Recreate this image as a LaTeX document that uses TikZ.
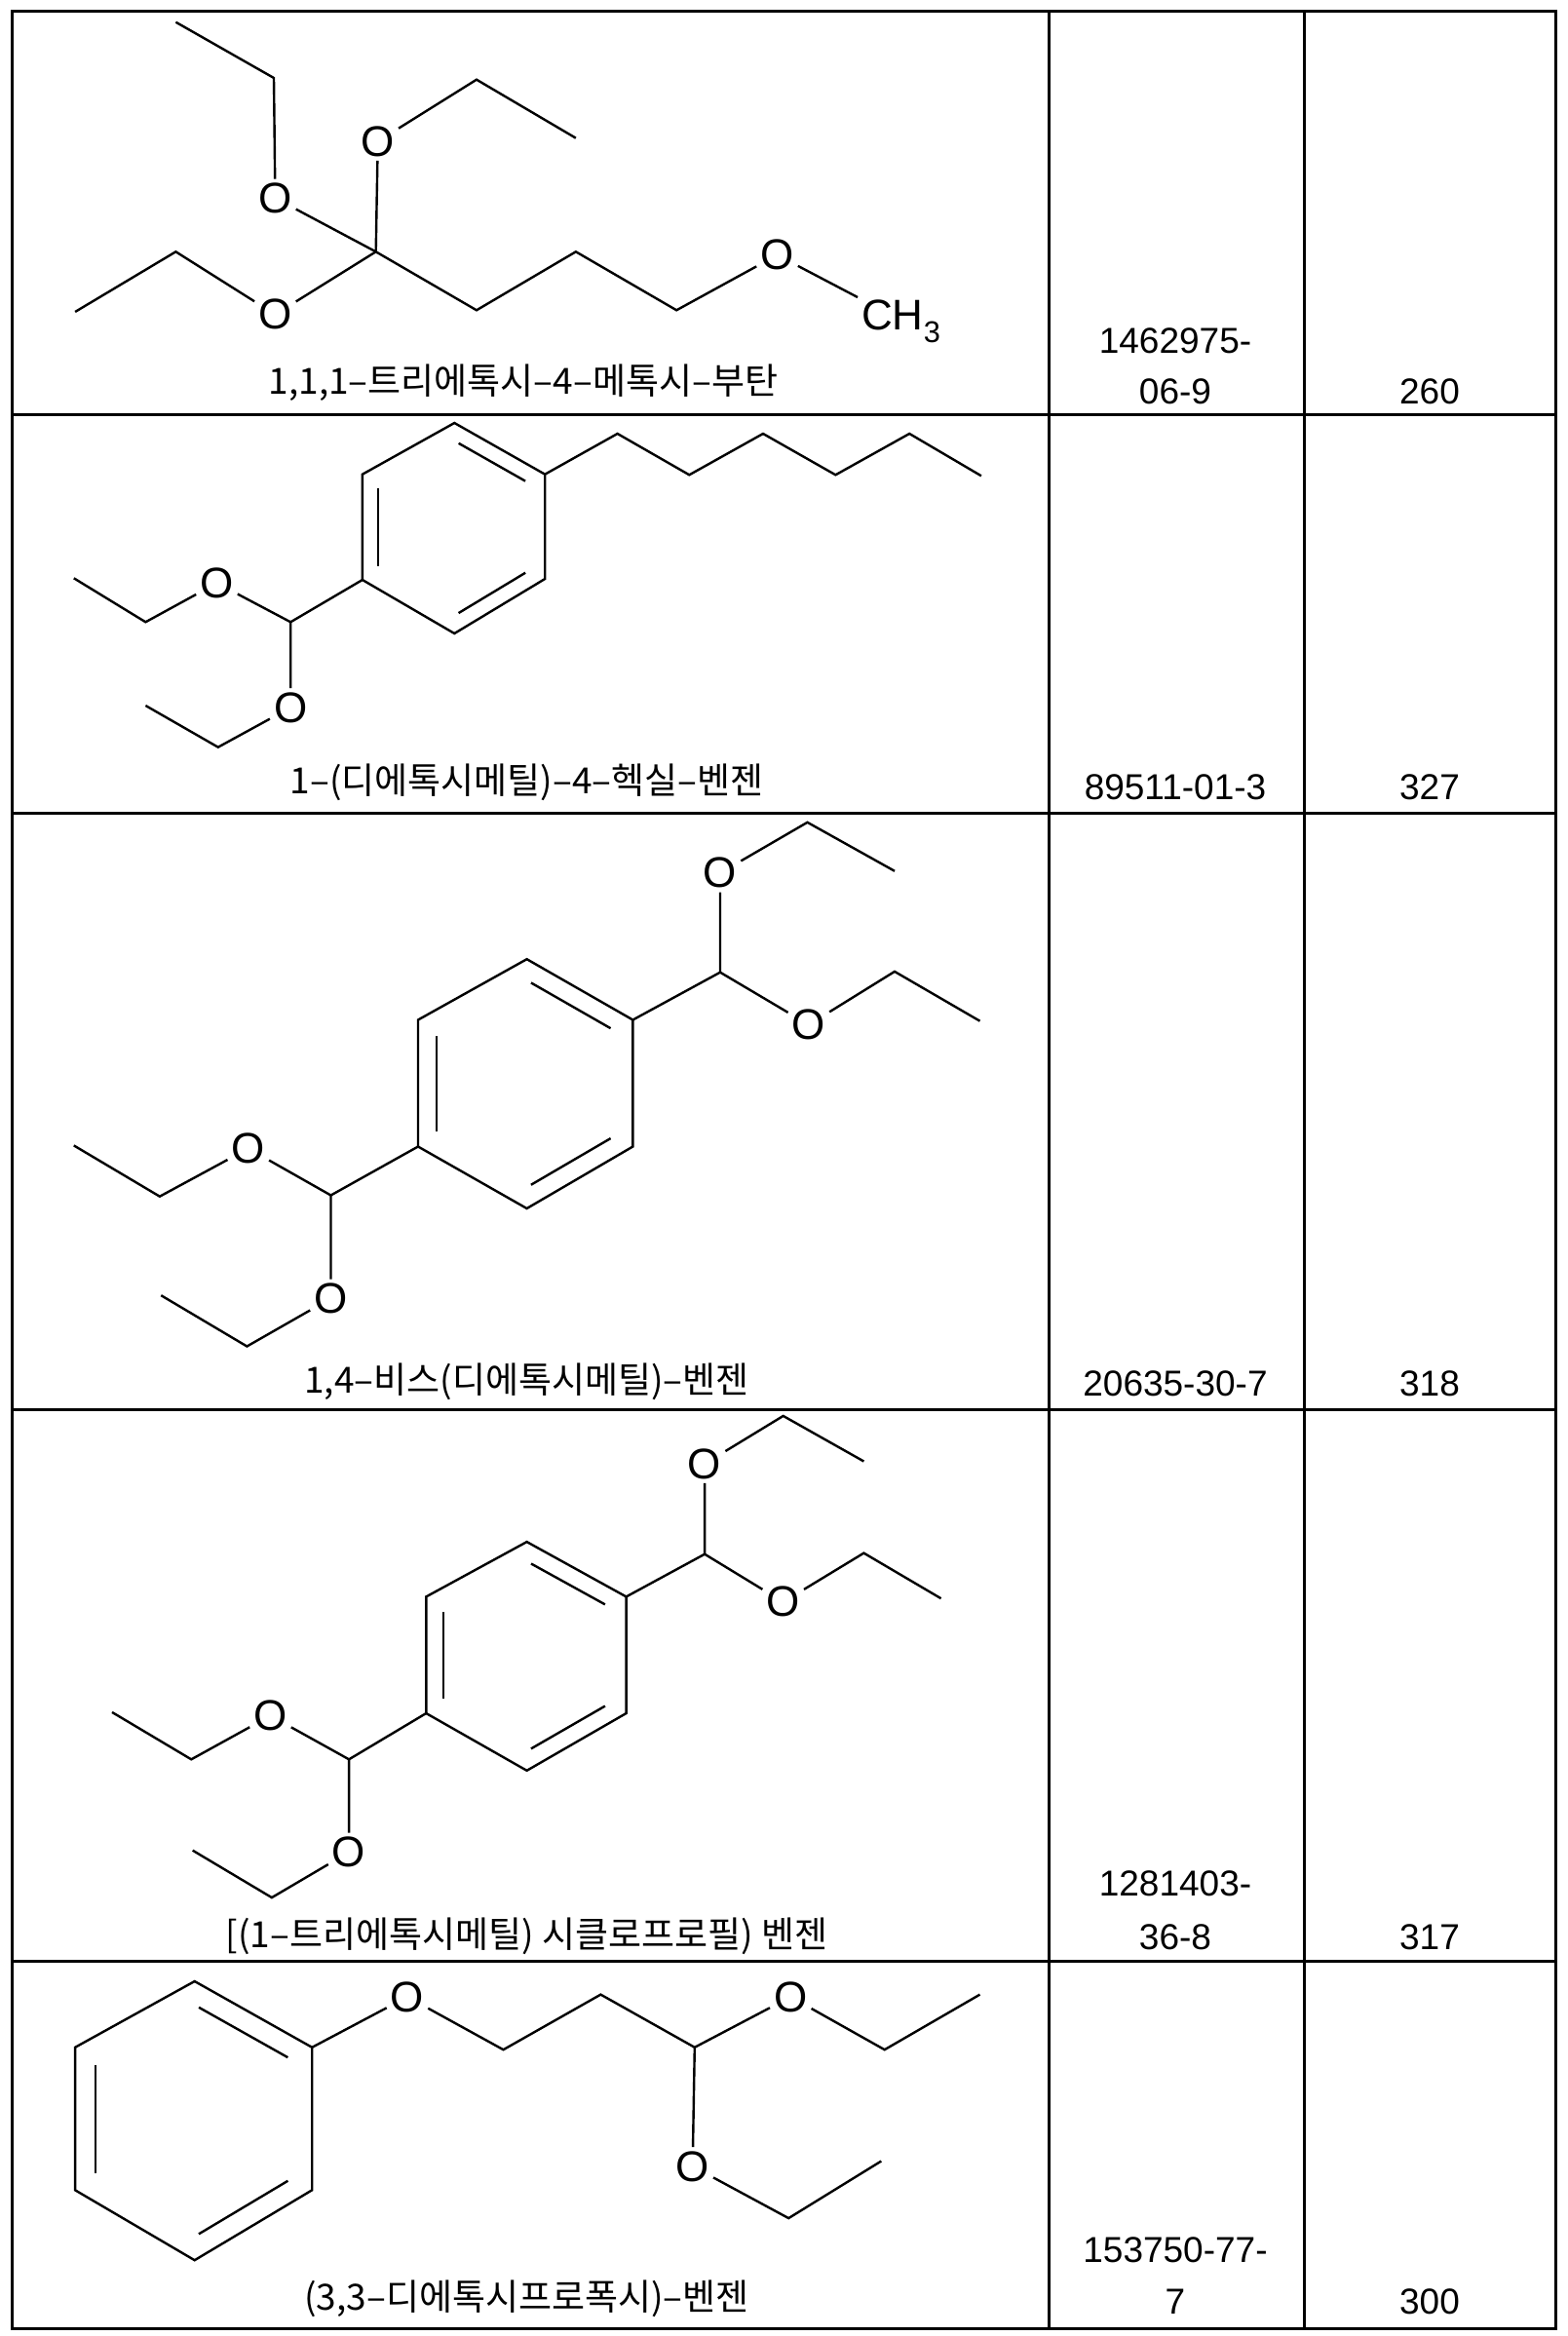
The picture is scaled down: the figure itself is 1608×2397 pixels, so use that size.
\documentclass[tikz,border=0pt]{standalone}
\usepackage{fontspec}
\setmainfont{Liberation Sans}
\newfontfamily\kr{Noto Sans CJK KR}
\usetikzlibrary{calc}
\newcommand\dbl[3]{\draw[shorten <=5pt,shorten >=5pt] ($(#1)!0.17!(#3)$) -- ($(#2)!0.17!(#3)$);}
\begin{document}
\begin{tikzpicture}[x=1pt,y=-1pt,line width=2.4pt,
  atom/.style={font=\fontsize{44}{44}\selectfont, inner sep=3pt},
  lab/.style={font=\kr\fontsize{37}{40}\selectfont, inner sep=0pt},
  num/.style={font=\fontsize{37}{40}\selectfont, inner sep=0pt}]
\useasboundingbox (0,0) rectangle (1608,2397);
% table
\draw[line width=3pt] (12,12) rectangle (1596,2389);
\draw[line width=3pt] (1076,12) -- (1076,2389) (1338,12) -- (1338,2389);
\foreach \y in {425,834,1446,2012} \draw[line width=3pt] (12,\y) -- (1596,\y);
% ===== row 1
\coordinate (a1) at (180.4,22.7); \coordinate (a2) at (281,80);
\node[atom] (ao1) at (282.4,203.3) {O};
\coordinate (ac) at (385.7,258.3);
\node[atom] (ao2) at (387.7,145) {O};
\coordinate (a3) at (489,81.7); \coordinate (a4) at (590.9,141.7);
\node[atom] (ao3) at (282.4,322.7) {O};
\coordinate (a6) at (180.4,258.3); \coordinate (a5) at (77.1,320);
\coordinate (a7) at (489,318.3); \coordinate (a8) at (590.9,258.3); \coordinate (a9) at (694.2,318.3);
\node[atom] (ao4) at (797.5,261.7) {O};
\node[atom,anchor=west,inner sep=0pt] (ach) at (883,330) {CH\textsubscript{3}};
\coordinate (ach3) at (880,305);
\draw (a1) -- (a2) -- (ao1) -- (ac) -- (ao2) -- (a3) -- (a4);
\draw (a5) -- (a6) -- (ao3) -- (ac) -- (a7) -- (a8) -- (a9) -- (ao4) -- (ach3);
\node[lab] (l1) at (537,393) {1,1,1–트리에톡시–4–메톡시–부탄};
\node[num] (c1a) at (1206,350) {1462975-};
\node[num] (c1b) at (1206,402) {06-9};
\node[num] (v1) at (1467,402) {260};
% ===== row 2
\coordinate (b1) at (466.3,434); \coordinate (b2) at (559.2,486.7); \coordinate (b3) at (559.2,594);
\coordinate (b4) at (466.3,650); \coordinate (b5) at (371.9,595); \coordinate (b6) at (371.9,486.7);
\coordinate (bc) at ($(b1)!0.5!(b4)$);
\draw (b1) -- (b2) -- (b3) -- (b4) -- (b5) -- (b6) -- cycle;
\dbl{b1}{b2}{bc} \dbl{b5}{b6}{bc} \dbl{b3}{b4}{bc}
\coordinate (h1) at (633.6,445); \coordinate (h2) at (707.3,487.3); \coordinate (h3) at (783,445);
\coordinate (h4) at (857.4,487.3); \coordinate (h5) at (933.2,445); \coordinate (h6) at (1006.9,488.3);
\draw (b2) -- (h1) -- (h2) -- (h3) -- (h4) -- (h5) -- (h6);
\coordinate (bac) at (298.2,638.3);
\node[atom] (bo1) at (222.5,598.3) {O}; \coordinate (be1) at (149.4,638.3); \coordinate (be2) at (75.8,593.3);
\node[atom] (bo2) at (298.2,726) {O}; \coordinate (be3) at (223.8,766.7); \coordinate (be4) at (149.4,724);
\draw (b5) -- (bac) -- (bo1) -- (be1) -- (be2);
\draw (bac) -- (bo2) -- (be3) -- (be4);
\node[lab] (l2) at (540.6,803.3) {1–(디에톡시메틸)–4–헥실–벤젠};
\node[num] (c2) at (1206,808) {89511-01-3};
\node[num] (v2) at (1467,808) {327};
% ===== row 3
\coordinate (c1) at (540.6,984.2); \coordinate (c2) at (649.4,1046.5); \coordinate (c3) at (649.4,1176.5);
\coordinate (c4) at (540.6,1240); \coordinate (c5) at (429,1176.5); \coordinate (c6) at (429,1046.5);
\coordinate (cc) at ($(c1)!0.5!(c4)$);
\draw (c1) -- (c2) -- (c3) -- (c4) -- (c5) -- (c6) -- cycle;
\dbl{c1}{c2}{cc} \dbl{c5}{c6}{cc} \dbl{c3}{c4}{cc}
\coordinate (crc) at (739,997.7);
\node[atom] (co1) at (739,895.8) {O}; \coordinate (ce1) at (828.5,843.8); \coordinate (ce2) at (918,893.8);
\node[atom] (co2) at (829.9,1051.5) {O}; \coordinate (ce3) at (918,996.9); \coordinate (ce4) at (1005.5,1047.7);
\draw (c2) -- (crc) -- (co1) -- (ce1) -- (ce2);
\draw (crc) -- (co2) -- (ce3) -- (ce4);
\coordinate (clc) at (339.5,1226.5);
\node[atom] (co3) at (254.8,1178.5) {O}; \coordinate (ce5) at (163.9,1227.7); \coordinate (ce6) at (75.8,1175.4);
\node[atom] (co4) at (339.5,1332.3) {O}; \coordinate (ce7) at (253.4,1381.5); \coordinate (ce8) at (165.3,1329.2);
\draw (c5) -- (clc) -- (co3) -- (ce5) -- (ce6);
\draw (clc) -- (co4) -- (ce7) -- (ce8);
\node[lab] (l3) at (540.6,1418) {1,4–비스(디에톡시메틸)–벤젠};
\node[num] (c3n) at (1206,1420) {20635-30-7};
\node[num] (v3) at (1467,1420) {318};
% ===== row 4
\coordinate (d1) at (540.6,1582.1); \coordinate (d2) at (642.6,1638.4); \coordinate (d3) at (642.6,1758);
\coordinate (d4) at (540.6,1816.8); \coordinate (d5) at (437.3,1758); \coordinate (d6) at (437.3,1638.4);
\coordinate (dc) at ($(d1)!0.5!(d4)$);
\draw (d1) -- (d2) -- (d3) -- (d4) -- (d5) -- (d6) -- cycle;
\dbl{d1}{d2}{dc} \dbl{d5}{d6}{dc} \dbl{d3}{d4}{dc}
\coordinate (drc) at (723.1,1594.7);
\node[atom] (do1) at (723.1,1502) {O}; \coordinate (de1) at (803.7,1452.9); \coordinate (de2) at (886.4,1499.5);
\node[atom] (do2) at (803.7,1643.8) {O}; \coordinate (de3) at (886.4,1593.6); \coordinate (de4) at (965.6,1640.2);
\draw (d2) -- (drc) -- (do1) -- (de1) -- (de2);
\draw (drc) -- (do2) -- (de3) -- (de4);
\coordinate (dlc) at (358.1,1805.3);
\node[atom] (do3) at (277.5,1760.5) {O}; \coordinate (de5) at (196.3,1805.3); \coordinate (de6) at (115,1756.9);
\node[atom] (do4) at (358.1,1900.5) {O}; \coordinate (de7) at (278.9,1947.1); \coordinate (de8) at (197.7,1898.7);
\draw (d5) -- (dlc) -- (do3) -- (de5) -- (de6);
\draw (dlc) -- (do4) -- (de7) -- (de8);
\node[lab] (l4) at (540.6,1986.6) {[(1–트리에톡시메틸) 시클로프로필) 벤젠};
\node[num] (c4a) at (1206,1933) {1281403-};
\node[num] (c4b) at (1206,1988) {36-8};
\node[num] (v4) at (1467,1988) {317};
% ===== row 5
\coordinate (e1) at (199.7,2033); \coordinate (e2) at (320.2,2100.8); \coordinate (e3) at (320.2,2247.3);
\coordinate (e4) at (199.7,2319.2); \coordinate (e5) at (77.1,2247.3); \coordinate (e6) at (77.1,2100.8);
\coordinate (ec) at ($(e1)!0.5!(e4)$);
\draw (e1) -- (e2) -- (e3) -- (e4) -- (e5) -- (e6) -- cycle;
\dbl{e1}{e2}{ec} \dbl{e5}{e6}{ec} \dbl{e3}{e4}{ec}
\node[atom] (eo1) at (418,2049) {O}; \coordinate (f1) at (516.5,2103.2); \coordinate (f2) at (616.4,2046.6);
\coordinate (fc) at (712.8,2100.8);
\node[atom] (eo2) at (811.3,2049) {O}; \coordinate (f3) at (907.7,2103.2); \coordinate (f4) at (1005.5,2046.6);
\node[atom] (eo3) at (710.7,2222.9) {O}; \coordinate (f5) at (809.2,2276.1); \coordinate (f6) at (904.3,2217.5);
\draw (e2) -- (eo1) -- (f1) -- (f2) -- (fc) -- (eo2) -- (f3) -- (f4);
\draw (fc) -- (eo3) -- (f5) -- (f6);
\node[lab] (l5) at (540.6,2359.2) {(3,3–디에톡시프로폭시)–벤젠};
\node[num] (c5a) at (1206,2309) {153750-77-};
\node[num] (c5b) at (1206,2362) {7};
\node[num] (v5) at (1467,2362) {300};
\end{tikzpicture}
\end{document}
